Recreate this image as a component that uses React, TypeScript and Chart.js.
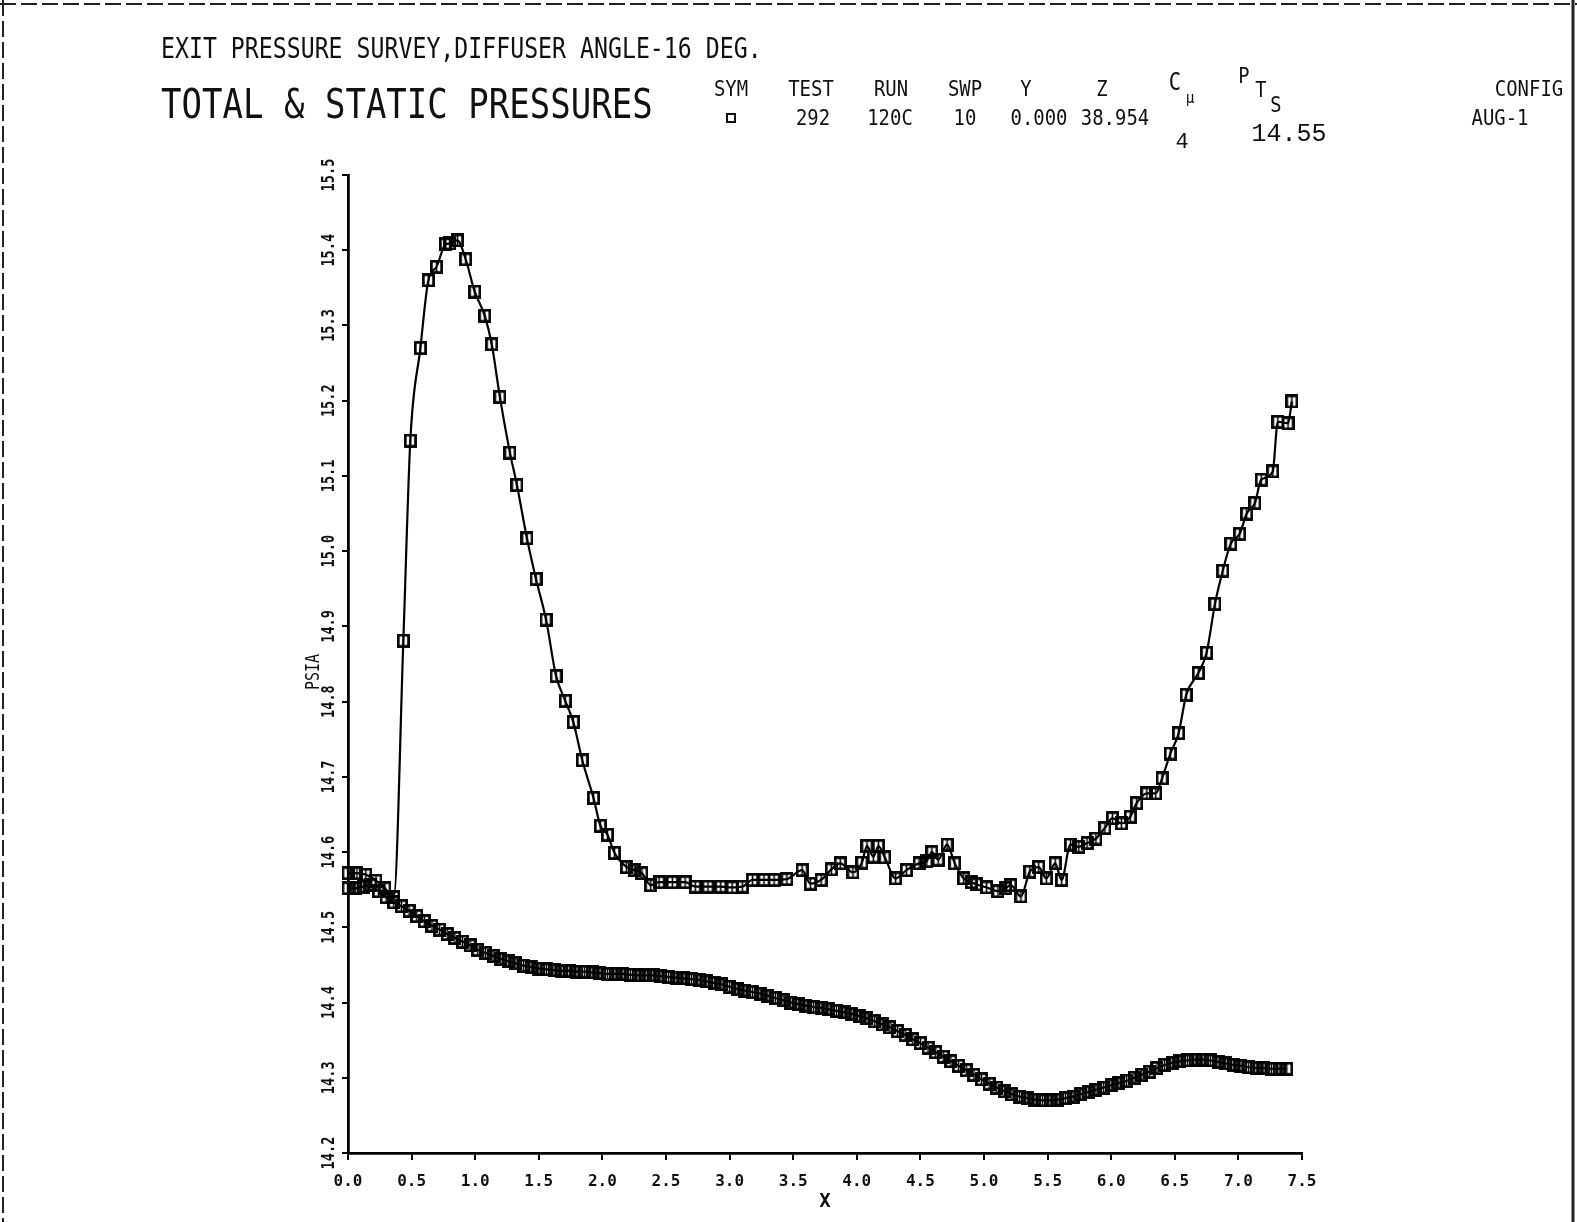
import React, { useEffect, useRef } from 'react';
import { Chart, registerables } from 'chart.js';

Chart.register(...registerables);

const W = 1577;
const H = 1222;

// Axis ranges / tick steps
const X_MIN = 0;
const X_MAX = 7.5;
const X_STEP = 0.5;
const Y_MIN = 14.2;
const Y_MAX = 15.5;
const Y_STEP = 0.1;

// Total pressure survey (upper curve) [x, psia]
const totalPressure: [number, number][] = [
  [0.0, 14.572], [0.07, 14.572], [0.14, 14.57], [0.22, 14.562], [0.29, 14.552], [0.36, 14.54],
  [0.435, 14.881], [0.49, 15.147], [0.569, 15.27], [0.632, 15.36], [0.696, 15.378], [0.767, 15.408],
  [0.8, 15.409], [0.86, 15.413], [0.925, 15.388], [0.996, 15.345], [1.075, 15.313], [1.13, 15.275],
  [1.194, 15.205], [1.273, 15.131], [1.328, 15.088], [1.407, 15.017], [1.478, 14.963], [1.557, 14.909],
  [1.636, 14.834], [1.708, 14.801], [1.771, 14.773], [1.842, 14.722], [1.93, 14.672], [1.984, 14.635],
  [2.04, 14.623], [2.095, 14.599], [2.19, 14.58], [2.25, 14.576], [2.31, 14.572], [2.38, 14.556],
  [2.445, 14.56], [2.55, 14.56], [2.65, 14.56], [2.73, 14.554], [2.83, 14.554], [2.93, 14.554],
  [3.02, 14.553], [3.1, 14.554], [3.18, 14.563], [3.27, 14.563], [3.35, 14.563], [3.45, 14.564],
  [3.57, 14.576], [3.635, 14.558], [3.72, 14.563], [3.8, 14.577], [3.87, 14.585], [3.97, 14.573],
  [4.04, 14.586], [4.08, 14.608], [4.13, 14.594], [4.17, 14.608], [4.22, 14.593], [4.305, 14.565],
  [4.39, 14.576], [4.49, 14.585], [4.55, 14.588], [4.59, 14.6], [4.64, 14.59], [4.71, 14.61],
  [4.77, 14.585], [4.84, 14.565], [4.9, 14.56], [4.94, 14.557], [5.02, 14.553], [5.11, 14.548],
  [5.17, 14.552], [5.21, 14.556], [5.29, 14.541], [5.36, 14.574], [5.43, 14.58], [5.49, 14.565],
  [5.56, 14.585], [5.61, 14.563], [5.68, 14.61], [5.745, 14.607], [5.81, 14.612], [5.88, 14.618],
  [5.95, 14.632], [6.01, 14.645], [6.08, 14.638], [6.15, 14.647], [6.2, 14.665], [6.28, 14.678],
  [6.35, 14.678], [6.4, 14.698], [6.465, 14.731], [6.53, 14.758], [6.59, 14.809], [6.685, 14.838],
  [6.75, 14.865], [6.816, 14.93], [6.877, 14.974], [6.94, 15.01], [7.01, 15.023], [7.065, 15.05],
  [7.13, 15.064], [7.18, 15.095], [7.27, 15.106], [7.31, 15.172], [7.39, 15.17], [7.42, 15.199],
];

// Static pressure survey (lower curve) [x, psia]
const staticPressure: [number, number][] = [
  [0.0, 14.552], [0.06, 14.552], [0.12, 14.554], [0.18, 14.556], [0.24, 14.548], [0.3, 14.54],
  [0.36, 14.533], [0.42, 14.528], [0.48, 14.522], [0.54, 14.515], [0.6, 14.508], [0.66, 14.502],
  [0.72, 14.497], [0.78, 14.491], [0.84, 14.486], [0.9, 14.481], [0.96, 14.476], [1.02, 14.47],
  [1.08, 14.466], [1.14, 14.462], [1.2, 14.458], [1.26, 14.455], [1.32, 14.452], [1.38, 14.449],
  [1.44, 14.447], [1.5, 14.445], [1.56, 14.444], [1.62, 14.443], [1.68, 14.442], [1.74, 14.442],
  [1.8, 14.441], [1.86, 14.441], [1.92, 14.44], [1.98, 14.439], [2.04, 14.438], [2.1, 14.438],
  [2.16, 14.438], [2.22, 14.437], [2.28, 14.436], [2.34, 14.436], [2.4, 14.436], [2.46, 14.435],
  [2.52, 14.434], [2.58, 14.433], [2.64, 14.432], [2.7, 14.431], [2.76, 14.43], [2.82, 14.428],
  [2.88, 14.426], [2.94, 14.424], [3.0, 14.421], [3.06, 14.418], [3.12, 14.416], [3.18, 14.414],
  [3.24, 14.412], [3.3, 14.409], [3.36, 14.406], [3.42, 14.403], [3.48, 14.4], [3.54, 14.398],
  [3.6, 14.396], [3.66, 14.394], [3.72, 14.393], [3.78, 14.391], [3.84, 14.389], [3.9, 14.387],
  [3.96, 14.385], [4.02, 14.382], [4.08, 14.379], [4.14, 14.375], [4.2, 14.371], [4.26, 14.367],
  [4.32, 14.362], [4.38, 14.357], [4.44, 14.351], [4.5, 14.346], [4.56, 14.34], [4.62, 14.334],
  [4.68, 14.328], [4.74, 14.322], [4.8, 14.316], [4.86, 14.31], [4.92, 14.304], [4.98, 14.298],
  [5.04, 14.292], [5.1, 14.287], [5.16, 14.282], [5.22, 14.278], [5.28, 14.275], [5.34, 14.273],
  [5.4, 14.271], [5.46, 14.27], [5.52, 14.27], [5.58, 14.271], [5.64, 14.273], [5.7, 14.275],
  [5.76, 14.278], [5.82, 14.281], [5.88, 14.284], [5.94, 14.287], [6.0, 14.29], [6.06, 14.293],
  [6.12, 14.296], [6.18, 14.3], [6.24, 14.304], [6.3, 14.308], [6.36, 14.313], [6.42, 14.317],
  [6.48, 14.32], [6.54, 14.322], [6.6, 14.323], [6.66, 14.324], [6.72, 14.324], [6.78, 14.323],
  [6.84, 14.321], [6.9, 14.319], [6.96, 14.317], [7.02, 14.316], [7.08, 14.314], [7.14, 14.313],
  [7.2, 14.313], [7.26, 14.312], [7.32, 14.312], [7.38, 14.312],
];

// Header text
const TITLE_1 = 'EXIT PRESSURE SURVEY,DIFFUSER ANGLE-16 DEG.';
const TITLE_2 = 'TOTAL & STATIC PRESSURES';
const headerCols = ['SYM', 'TEST', 'RUN', 'SWP', 'Y', 'Z'];
const headerVals = ['', '292', '120C', '10', '0.000', '38.954'];
const CONFIG_LABEL = 'CONFIG';
const CONFIG_VAL = 'AUG-1';
const CMU_VAL = '4';
const PTS_VAL = '14.55';
const Y_TITLE = 'PSIA';
const X_TITLE = 'X';

// layout constants
const AREA = { left: 348, right: 1302, top: 175, bottom: 1153 };
const MONO = '"DejaVu Sans Mono", monospace';
const TYPE = '"Liberation Mono", "Courier New", monospace';

type TxtProps = { x: number; y: number; size: number; sx?: number; text: string; anchor?: 'left' | 'center'; font?: string; weight?: number };
const Txt = ({ x, y, size, sx = 1, text, anchor = 'center', font = MONO, weight = 400 }: TxtProps) => (
  <div
    style={{
      position: 'absolute',
      left: x,
      top: y,
      fontFamily: font,
      fontSize: size,
      fontWeight: weight,
      lineHeight: 1,
      whiteSpace: 'nowrap',
      color: '#111',
      transformOrigin: anchor === 'left' ? '0 50%' : '50% 50%',
      transform: anchor === 'left' ? `translateY(-50%) scaleX(${sx})` : `translate(-50%, -50%) scaleX(${sx})`,
    }}
  >
    {text}
  </div>
);

function makeMarker(): HTMLCanvasElement {
  const c = document.createElement('canvas');
  c.width = 13;
  c.height = 14;
  const g = c.getContext('2d')!;
  g.strokeStyle = '#000';
  g.lineWidth = 2.7;
  g.strokeRect(1.4, 1.4, 10.2, 11.2);
  g.lineWidth = 1.6;
  g.beginPath();
  g.moveTo(6.5, 2);
  g.lineTo(6.5, 12);
  g.stroke();
  return c;
}

const decorPlugin = {
  id: 'decor',
  beforeDraw(chart: any) {
    const ctx = chart.ctx as CanvasRenderingContext2D;
    ctx.save();
    ctx.fillStyle = '#fff';
    ctx.fillRect(0, 0, W, H);
    ctx.strokeStyle = '#222';
    ctx.lineWidth = 2;
    ctx.setLineDash([16, 5]);
    ctx.beginPath();
    ctx.moveTo(3, 0);
    ctx.lineTo(3, H);
    ctx.stroke();
    ctx.beginPath();
    ctx.moveTo(0, 4);
    ctx.lineTo(W, 4);
    ctx.stroke();
    ctx.setLineDash([]);
    ctx.lineWidth = 3;
    ctx.beginPath();
    ctx.moveTo(1573, 0);
    ctx.lineTo(1573, H);
    ctx.stroke();
    ctx.restore();
  },
  afterDraw(chart: any) {
    const ctx = chart.ctx as CanvasRenderingContext2D;
    const ys = chart.scales.y;
    ctx.save();
    ctx.fillStyle = '#111';
    ctx.textAlign = 'center';
    ctx.textBaseline = 'middle';
    ctx.font = `bold 17px ${MONO}`;
    ys.ticks.forEach((t: any) => {
      const py = ys.getPixelForValue(t.value);
      ctx.save();
      ctx.translate(AREA.left - 18, py);
      ctx.rotate(-Math.PI / 2);
      ctx.scale(0.8, 1);
      ctx.fillText(Number(t.value).toFixed(1), 0, 0);
      ctx.restore();
    });
    ctx.font = `20px ${MONO}`;
    ctx.save();
    ctx.translate(314, 672);
    ctx.rotate(-Math.PI / 2);
    ctx.scale(0.75, 1);
    ctx.fillText(Y_TITLE, 0, 0);
    ctx.restore();
    ctx.restore();
  },
};

export default function App() {
  const ref = useRef<HTMLCanvasElement | null>(null);

  useEffect(() => {
    document.body.style.margin = '0';
    document.body.style.overflow = 'hidden';
    const canvas = ref.current;
    if (!canvas) return;
    const marker = makeMarker();
    const common = {
      borderColor: '#000',
      borderWidth: 2.2,
      pointStyle: marker,
      pointRadius: 6,
      pointHoverRadius: 6,
      cubicInterpolationMode: 'monotone' as const,
      clip: false as any,
      fill: false,
    };
    const chart = new Chart(canvas, {
      type: 'line',
      data: {
        datasets: [
          { ...common, label: 'Static', data: staticPressure.map(([x, y]) => ({ x, y })) },
          { ...common, label: 'Total', data: totalPressure.map(([x, y]) => ({ x, y })) },
        ],
      },
      options: {
        responsive: false,
        animation: false,
        devicePixelRatio: 1,
        layout: { padding: { left: 0, right: W - AREA.right, top: AREA.top, bottom: 0 } },
        plugins: { legend: { display: false }, tooltip: { enabled: false }, title: { display: false } },
        scales: {
          x: {
            type: 'linear',
            min: X_MIN,
            max: X_MAX,
            ticks: {
              stepSize: X_STEP,
              autoSkip: false,
              maxRotation: 0,
              color: '#111',
              padding: 12,
              font: { family: 'DejaVu Sans Mono', weight: 'bold', size: 16 },
              callback: (v: any) => Number(v).toFixed(1),
            },
            grid: { display: true, drawOnChartArea: false, drawTicks: true, tickLength: 7, color: '#000', lineWidth: 2 },
            border: { display: true, color: '#000', width: 2.8 },
            title: {
              display: true,
              text: X_TITLE,
              color: '#111',
              font: { family: 'DejaVu Sans Mono', weight: 'bold', size: 19 },
              padding: { top: 0, bottom: 9 },
            },
            afterFit: (s: any) => {
              s.height = H - AREA.bottom;
            },
          },
          y: {
            type: 'linear',
            min: Y_MIN,
            max: Y_MAX,
            ticks: { stepSize: Y_STEP, display: false },
            grid: { display: true, drawOnChartArea: false, drawTicks: true, tickLength: 6, color: '#000', lineWidth: 2 },
            border: { display: true, color: '#000', width: 2.8 },
            afterFit: (s: any) => {
              s.width = AREA.left;
            },
          },
        },
      },
      plugins: [decorPlugin],
    } as any);
    return () => chart.destroy();
  }, []);

  const colX = [731, 811, 891, 965, 1026, 1102];
  const valX = [731, 813, 890, 965, 1039, 1115];

  return (
    <div style={{ position: 'relative', width: W, height: H, overflow: 'hidden', background: '#fff' }}>
      <canvas ref={ref} width={W} height={H} style={{ position: 'absolute', left: 0, top: 0, width: W, height: H, display: 'block' }} />
      <Txt x={161} y={48} size={29} sx={0.8} text={TITLE_1} anchor="left" />
      <Txt x={161} y={104} size={41} sx={0.83} text={TITLE_2} anchor="left" />
      {headerCols.map((c, i) => (
        <Txt key={c} x={colX[i]} y={89} size={22} sx={0.86} text={c} />
      ))}
      {headerVals.map((v, i) =>
        v ? <Txt key={'v' + i} x={valX[i]} y={118} size={22} sx={0.86} text={v} /> : null
      )}
      <div
        style={{
          position: 'absolute',
          left: 731 - 5,
          top: 118 - 5,
          width: 6,
          height: 6,
          border: '2.5px solid #111',
        }}
      />
      <Txt x={1175} y={82} size={24} sx={0.85} text="C" />
      <Txt x={1190} y={98} size={16} sx={0.9} text="μ" />
      <Txt x={1244} y={76} size={22} sx={0.85} text="P" />
      <Txt x={1261} y={90} size={22} sx={0.85} text="T" />
      <Txt x={1276} y={105} size={22} sx={0.85} text="S" />
      <Txt x={1529} y={89} size={22} sx={0.86} text={CONFIG_LABEL} />
      <Txt x={1500} y={118} size={22} sx={0.86} text={CONFIG_VAL} />
      <Txt x={1182} y={143} size={22} text={CMU_VAL} font={TYPE} />
      <Txt x={1289} y={134} size={25} text={PTS_VAL} font={TYPE} />
    </div>
  );
}
